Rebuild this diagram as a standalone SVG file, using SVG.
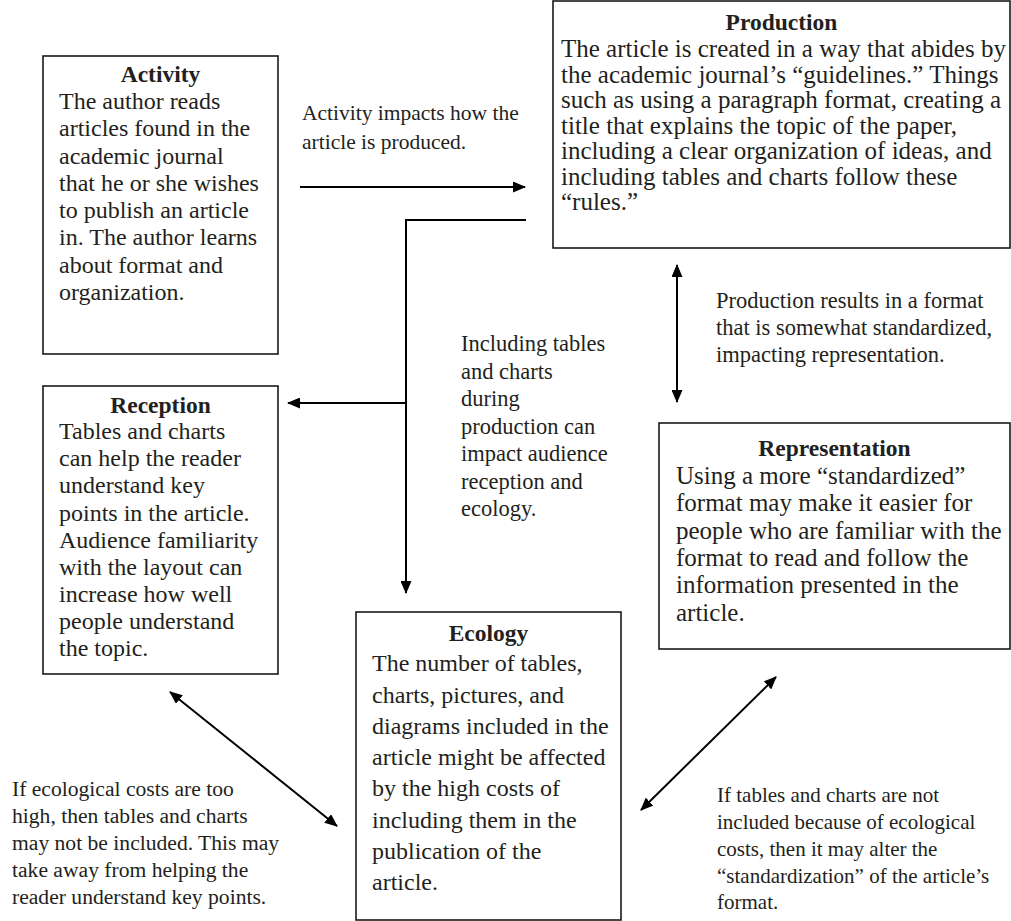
<svg xmlns="http://www.w3.org/2000/svg" width="1011" height="921" viewBox="0 0 1011 921">
<style>
.box{fill:#fff;stroke:#1a1a1a;stroke-width:1.6}
text{font-family:"Liberation Serif","Times New Roman",serif;fill:#231f20}
.t{font-weight:bold;text-anchor:middle}
.con{stroke:#000;stroke-width:2;fill:none}
</style>
<defs>
<marker id="ah" markerUnits="userSpaceOnUse" markerWidth="13" markerHeight="11" refX="12" refY="5.5" orient="auto-start-reverse" viewBox="0 0 13 11">
<path d="M0,0 L13,5.5 L0,11 z" fill="#000"/>
</marker>
</defs>
<rect width="1011" height="921" fill="#fff"/>

<g id="activity">
<rect class="box" x="43" y="56" width="235" height="298"/>
<text class="t" x="160.5" y="82" font-size="23.5">Activity</text>
<text font-size="24">
<tspan x="59" y="109">The author reads</tspan>
<tspan x="59" y="136">articles found in the</tspan>
<tspan x="59" y="163.5">academic journal</tspan>
<tspan x="59" y="190.5">that he or she wishes</tspan>
<tspan x="59" y="218">to publish an article</tspan>
<tspan x="59" y="245">in. The author learns</tspan>
<tspan x="59" y="272.5">about format and</tspan>
<tspan x="59" y="299.5">organization.</tspan>
</text>
</g>

<g id="production">
<rect class="box" x="553" y="1" width="457" height="247"/>
<text class="t" x="781.5" y="30" font-size="23.5">Production</text>
<text font-size="25">
<tspan x="561" y="57">The article is created in a way that abides by</tspan>
<tspan x="561" y="82.5">the academic journal’s “guidelines.” Things</tspan>
<tspan x="561" y="108">such as using a paragraph format, creating a</tspan>
<tspan x="561" y="133.5">title that explains the topic of the paper,</tspan>
<tspan x="561" y="159">including a clear organization of ideas, and</tspan>
<tspan x="561" y="184.5">including tables and charts follow these</tspan>
<tspan x="561" y="210">“rules.”</tspan>
</text>
</g>

<g id="reception">
<rect class="box" x="43" y="386" width="235" height="288"/>
<text class="t" x="160.5" y="413" font-size="23.5">Reception</text>
<text font-size="24">
<tspan x="59" y="439">Tables and charts</tspan>
<tspan x="59" y="466">can help the reader</tspan>
<tspan x="59" y="493">understand key</tspan>
<tspan x="59" y="520.5">points in the article.</tspan>
<tspan x="59" y="547.5">Audience familiarity</tspan>
<tspan x="59" y="574.5">with the layout can</tspan>
<tspan x="59" y="601.5">increase how well</tspan>
<tspan x="59" y="628.5">people understand</tspan>
<tspan x="59" y="656">the topic.</tspan>
</text>
</g>

<g id="representation">
<rect class="box" x="659" y="423" width="351" height="226"/>
<text class="t" x="834.5" y="456" font-size="23.5">Representation</text>
<text font-size="25">
<tspan x="676" y="484">Using a more “standardized”</tspan>
<tspan x="676" y="511">format may make it easier for</tspan>
<tspan x="676" y="538.5">people who are familiar with the</tspan>
<tspan x="676" y="566">format to read and follow the</tspan>
<tspan x="676" y="593">information presented in the</tspan>
<tspan x="676" y="620.5">article.</tspan>
</text>
</g>

<g id="ecology">
<rect class="box" x="356" y="612" width="265" height="308"/>
<text class="t" x="488.5" y="641" font-size="23.5">Ecology</text>
<text font-size="24">
<tspan x="372" y="671">The number of tables,</tspan>
<tspan x="372" y="702.5">charts, pictures, and</tspan>
<tspan x="372" y="733.5">diagrams included in the</tspan>
<tspan x="372" y="765">article might be affected</tspan>
<tspan x="372" y="796">by the high costs of</tspan>
<tspan x="372" y="827.5">including them in the</tspan>
<tspan x="372" y="858.5">publication of the</tspan>
<tspan x="372" y="890">article.</tspan>
</text>
</g>

<g id="connectors">
<line class="con" x1="300" y1="187" x2="525" y2="187" marker-end="url(#ah)"/>
<polyline class="con" points="526,220 406,220 406,593" marker-end="url(#ah)"/>
<line class="con" x1="406" y1="403" x2="288" y2="403" marker-end="url(#ah)"/>
<line class="con" x1="677" y1="265" x2="677" y2="402" marker-start="url(#ah)" marker-end="url(#ah)"/>
<line class="con" x1="170" y1="692" x2="337" y2="826" marker-start="url(#ah)" marker-end="url(#ah)"/>
<line class="con" x1="776" y1="677" x2="641" y2="810" marker-start="url(#ah)" marker-end="url(#ah)"/>
</g>

<g id="labels">
<text font-size="21.5">
<tspan x="302" y="120">Activity impacts how the</tspan>
<tspan x="302" y="149">article is produced.</tspan>
</text>
<text font-size="22.5">
<tspan x="461" y="351">Including tables</tspan>
<tspan x="461" y="378.5">and charts</tspan>
<tspan x="461" y="406">during</tspan>
<tspan x="461" y="433.5">production can</tspan>
<tspan x="461" y="461">impact audience</tspan>
<tspan x="461" y="488.5">reception and</tspan>
<tspan x="461" y="516">ecology.</tspan>
</text>
<text font-size="22.5">
<tspan x="716" y="308">Production results in a format</tspan>
<tspan x="716" y="335">that is somewhat standardized,</tspan>
<tspan x="716" y="362">impacting representation.</tspan>
</text>
<text font-size="21.6">
<tspan x="12" y="796">If ecological costs are too</tspan>
<tspan x="12" y="823">high, then tables and charts</tspan>
<tspan x="12" y="850">may not be included. This may</tspan>
<tspan x="12" y="877">take away from helping the</tspan>
<tspan x="12" y="904">reader understand key points.</tspan>
</text>
<text font-size="21">
<tspan x="717" y="802">If tables and charts are not</tspan>
<tspan x="717" y="829">included because of ecological</tspan>
<tspan x="717" y="856">costs, then it may alter the</tspan>
<tspan x="717" y="883">“standardization” of the article’s</tspan>
<tspan x="717" y="909">format.</tspan>
</text>
</g>
</svg>
